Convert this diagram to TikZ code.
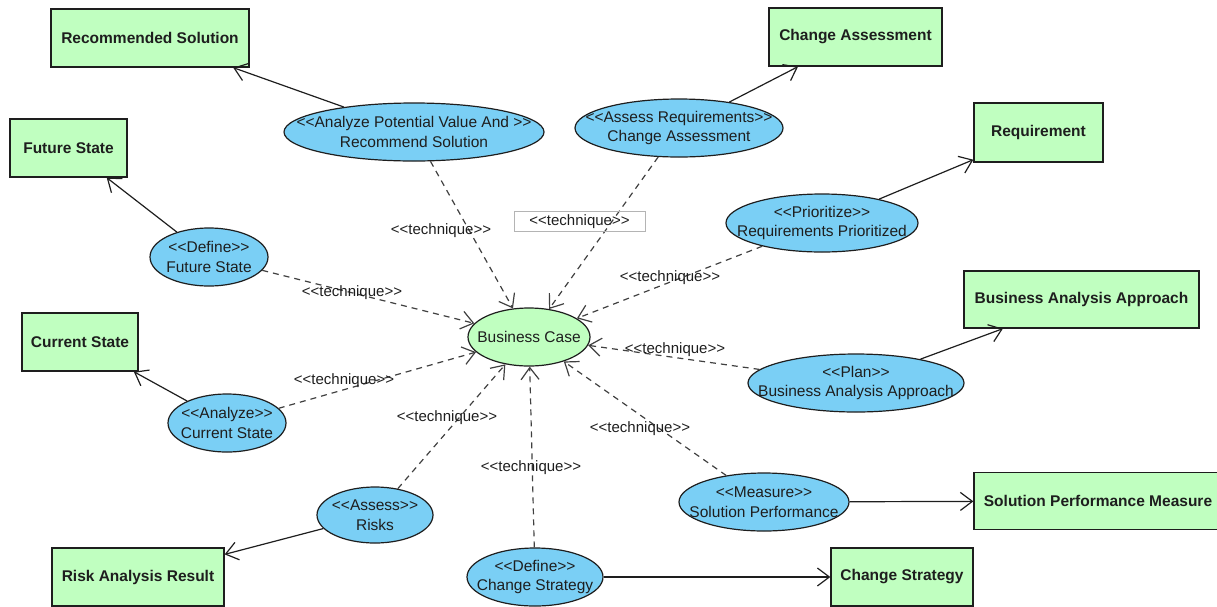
\documentclass[tikz,border=0pt]{standalone}
\usepackage{fontspec}
\setmainfont{Liberation Sans}
\usetikzlibrary{shapes.geometric,arrows.meta}

\definecolor{artgreen}{HTML}{C0FFC0}
\definecolor{ucblue}{HTML}{7ACFF5}
\definecolor{edgegray}{HTML}{404040}
\definecolor{inkdark}{HTML}{1E1E1E}
\definecolor{tagframe}{HTML}{B4B4B4}

% stereotype brackets, kept apart so they are not joined into guillemets
\newcommand{\stl}{<{}<}
\newcommand{\str}{>{}>}

\begin{document}
\begin{tikzpicture}[x=1pt,y=-1pt,
  every node/.style={font=\fontsize{15.5}{19.5}\selectfont, text=inkdark},
  artifact/.style 2 args={rectangle, draw=inkdark, line width=1.3pt, fill=artgreen,
    inner sep=0pt, minimum width=#1pt, minimum height=#2pt,
    font=\fontsize{15.5}{19.5}\selectfont\bfseries},
  usecase/.style n args={3}{ellipse, draw=inkdark, line width=1.2pt, fill=ucblue,
    inner sep=0pt, minimum width=#1pt, minimum height=#2pt,
    label={[align=center, inner sep=0pt]center:#3}},
  realize/.style={draw=inkdark, line width=1.2pt,
    -{Straight Barb[length=12pt,width=18pt]}},
  technique/.style={draw=edgegray, line width=1.2pt, dash pattern=on 6pt off 5pt,
    -{Straight Barb[length=12pt,width=18pt]}},
  techlabel/.style={inner sep=0pt, font=\fontsize{15}{18}\selectfont},
]
\useasboundingbox (0,0) rectangle (1217,606);

% artifacts
\node[artifact={198}{58}] (rs)  at (150,38)    {Recommended Solution};
\node[artifact={117}{58}] (fs)  at (68.5,148)  {Future State};
\node[artifact={173}{58}] (ca)  at (855.5,37)  {Change Assessment};
\node[artifact={129}{59}] (rq)  at (1038.5,132.5) {Requirement};
\node[artifact={235}{57}] (baa) at (1081.5,299.5) {Business Analysis Approach};
\node[artifact={116}{58}] (cs)  at (80,342)    {Current State};
\node[artifact={172}{58}] (rar) at (138,577)   {Risk Analysis Result};
\node[artifact={142}{58}] (chs) at (902,577)   {Change Strategy};
\node[artifact={248}{57}] (spm) at (1098,501)  {Solution Performance Measure};

% use cases
\node[usecase={260}{58}{\stl Analyze Potential Value And \str\\Recommend Solution}] (apv) at (414,132) {};
\node[usecase={208}{58}{\stl Assess Requirements\str\\Change Assessment}] (asr) at (679,128) {};
\node[usecase={192}{58}{\stl Prioritize\str\\Requirements Prioritized}] (pri) at (822,223) {};
\node[usecase={118}{58}{\stl Define\str\\Future State}] (dfs) at (209,257) {};
\node[usecase={122}{58}{Business Case}, fill=artgreen] (bc) at (529,337) {};
\node[usecase={216}{58}{\stl Plan\str\\Business Analysis Approach}] (pla) at (856,383) {};
\node[usecase={118}{58}{\stl Analyze\str\\Current State}] (acs) at (227,423) {};
\node[usecase={116}{56}{\stl Assess\str\\Risks}] (ark) at (375,515) {};
\node[usecase={136}{58}{\stl Define\str\\Change Strategy}] (dcs) at (535,577) {};
\node[usecase={170}{58}{\stl Measure\str\\Solution Performance}] (msp) at (764,502) {};

% outputs
\draw[realize] (apv) -- (rs);
\draw[realize] (dfs) -- (fs);
\draw[realize] (asr) -- (ca);
\draw[realize] (pri) -- (rq);
\draw[realize] (pla) -- (baa);
\draw[realize] (acs) -- (cs);
\draw[realize] (ark) -- (rar);
\draw[realize] (dcs) -- (chs);
\draw[realize] (msp) -- (spm);

% techniques used by the business case
\draw[technique] (apv) -- (bc);
\draw[technique] (asr) -- (bc);
\draw[technique] (pri) -- (bc);
\draw[technique] (dfs) -- (bc);
\draw[technique] (pla) -- (bc);
\draw[technique] (acs) -- (bc);
\draw[technique] (ark) -- (bc);
\draw[technique] (dcs) -- (bc);
\draw[technique] (msp) -- (bc);

\node[techlabel] (t1) at (441,231) {\stl technique\str};
\node[techlabel, draw=tagframe, line width=0.9pt, minimum width=131pt, minimum height=20pt] (t2) at (579.5,221.5) {\stl technique\str};
\node[techlabel] (t3) at (670,278) {\stl technique\str};
\node[techlabel] (t4) at (352,293) {\stl technique\str};
\node[techlabel] (t5) at (344,381) {\stl technique\str};
\node[techlabel] (t6) at (675,350) {\stl technique\str};
\node[techlabel] (t7) at (447,418) {\stl technique\str};
\node[techlabel] (t8) at (531,468) {\stl technique\str};
\node[techlabel] (t9) at (640,429) {\stl technique\str};
\end{tikzpicture}
\end{document}
